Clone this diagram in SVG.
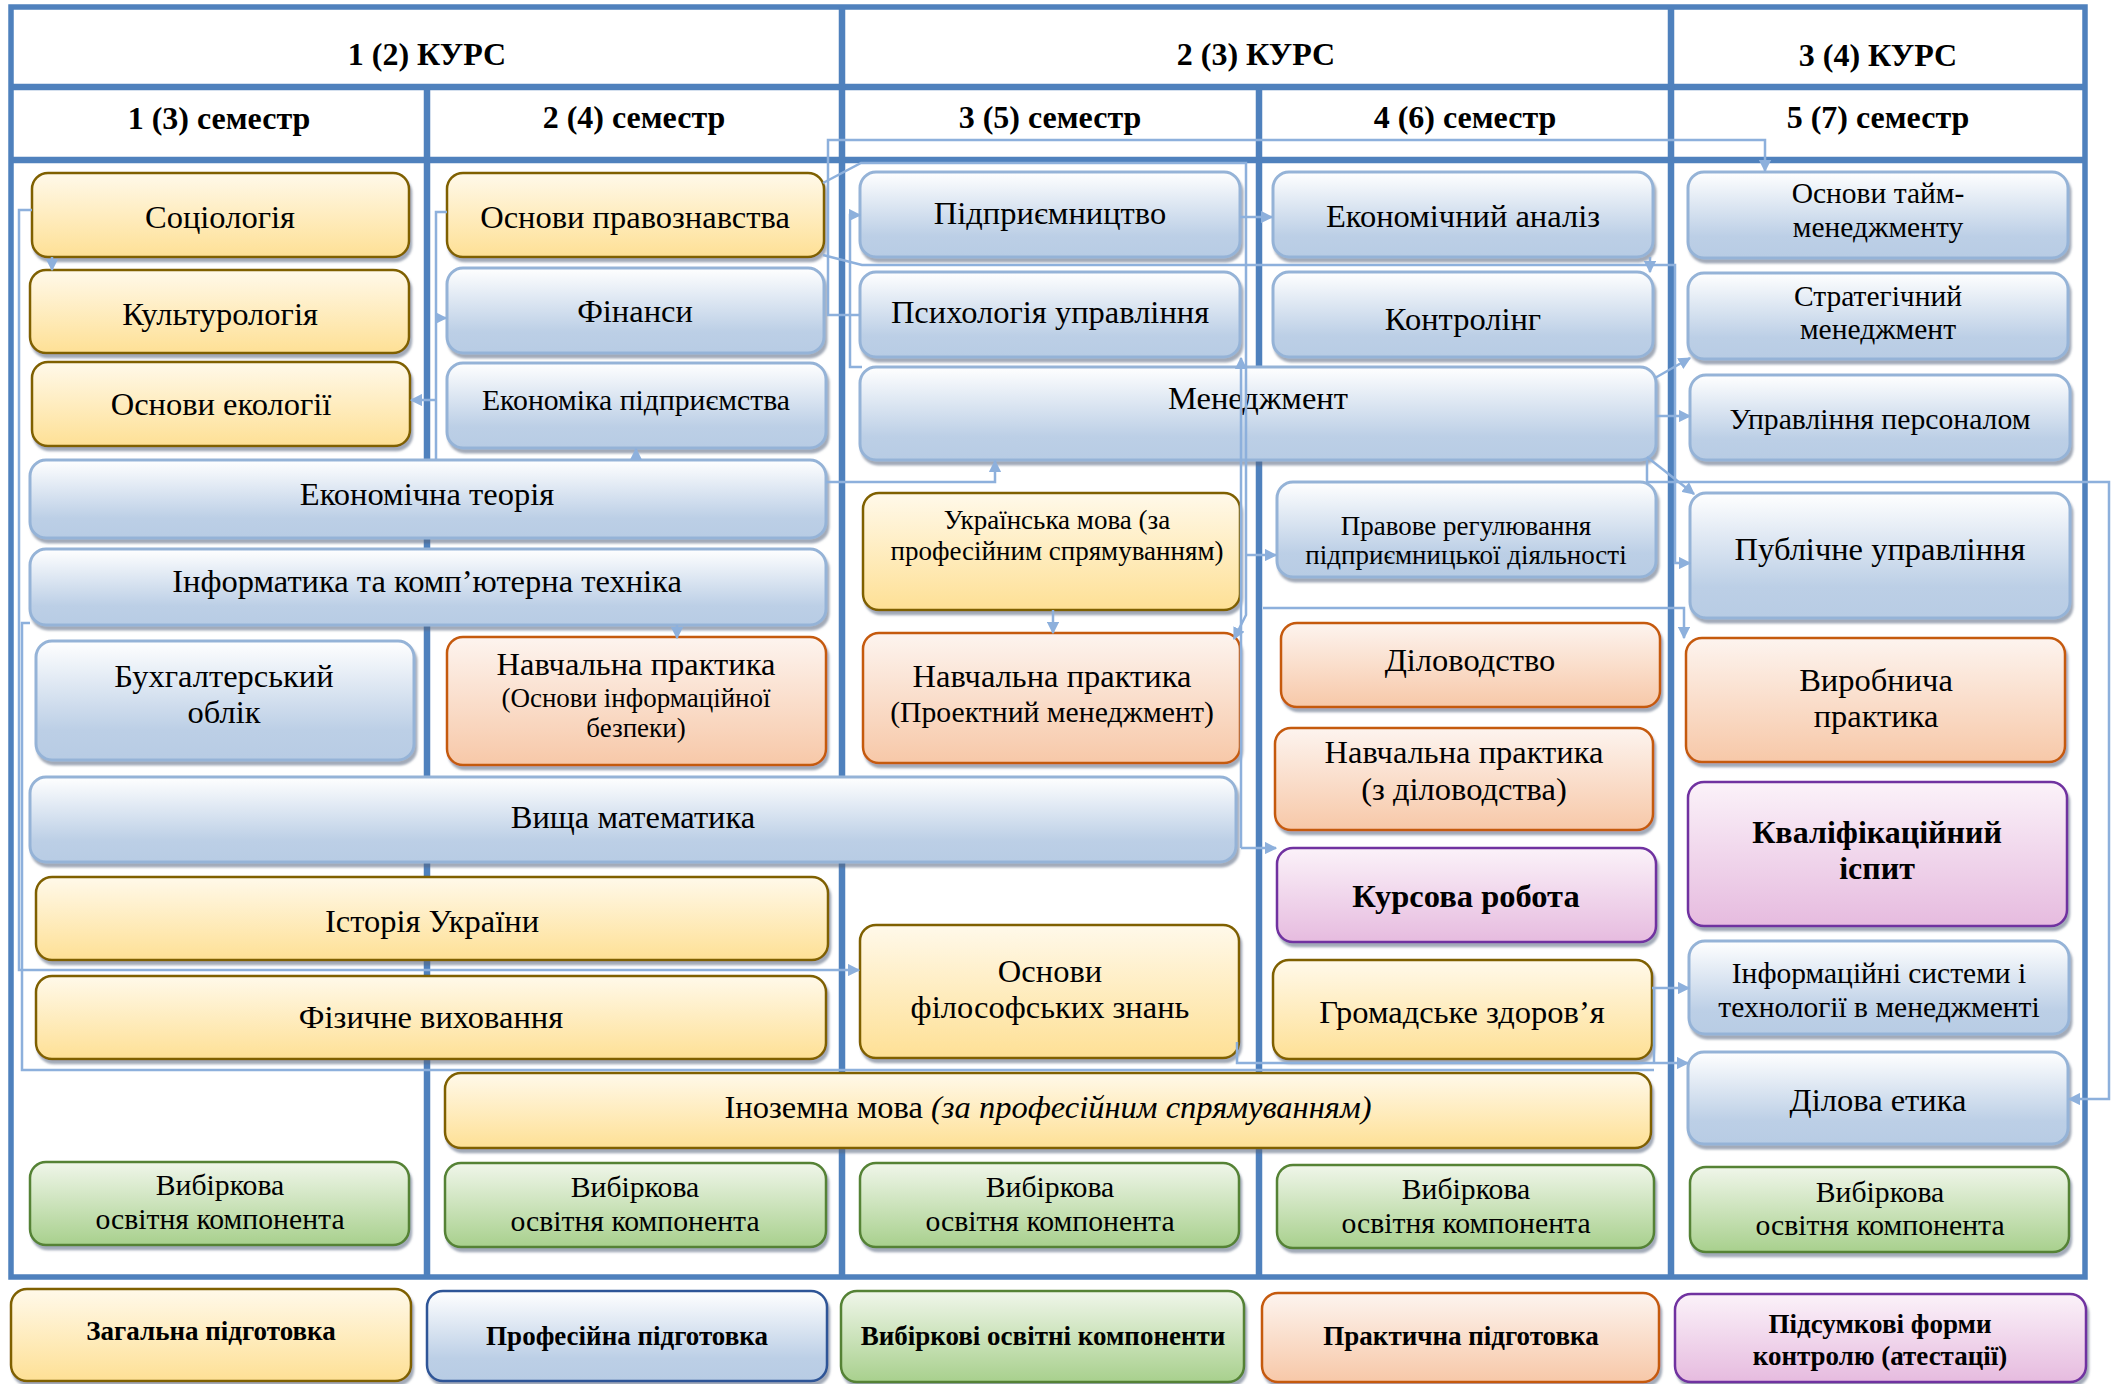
<svg xmlns="http://www.w3.org/2000/svg" width="2118" height="1384" viewBox="0 0 2118 1384">
<defs>
<linearGradient id="gy" x1="0" y1="0" x2="0" y2="1"><stop offset="0" stop-color="#FFF9EA"/><stop offset="1" stop-color="#FEE095"/></linearGradient>
<linearGradient id="gb" x1="0" y1="0" x2="0" y2="1"><stop offset="0" stop-color="#FFFFFF"/><stop offset="0.75" stop-color="#BCCFE6"/><stop offset="1" stop-color="#B8CCE4"/></linearGradient>
<linearGradient id="go" x1="0" y1="0" x2="0" y2="1"><stop offset="0" stop-color="#FDF4EF"/><stop offset="1" stop-color="#F7C8A8"/></linearGradient>
<linearGradient id="gp" x1="0" y1="0" x2="0" y2="1"><stop offset="0" stop-color="#FBF2F9"/><stop offset="1" stop-color="#E6BBDF"/></linearGradient>
<linearGradient id="gg" x1="0" y1="0" x2="0" y2="1"><stop offset="0" stop-color="#F0F6EA"/><stop offset="1" stop-color="#A8D08D"/></linearGradient>
<filter id="sh" x="-5%" y="-10%" width="110%" height="135%"><feDropShadow dx="2" dy="4" stdDeviation="1.2" flood-color="#55657d" flood-opacity="0.55"/></filter>
<marker id="ar" viewBox="0 0 10 10" refX="9" refY="5" markerWidth="5" markerHeight="5" orient="auto" markerUnits="strokeWidth"><path d="M0,0 L10,5 L0,10 z" fill="#8DB0DC"/></marker>
</defs>
<style>
.n rect{filter:url(#sh);}
.y rect{fill:url(#gy);stroke:#7F6000;stroke-width:2.5;}
.b rect{fill:url(#gb);stroke:#95B3D7;stroke-width:3;}
.o rect{fill:url(#go);stroke:#C55A11;stroke-width:2.5;}
.p rect{fill:url(#gp);stroke:#7030A0;stroke-width:2.5;}
.g rect{fill:url(#gg);stroke:#548235;stroke-width:2.5;}
.lb rect{fill:url(#gb);stroke:#2F5597;stroke-width:2.5;}
text{font-family:"Liberation Serif","Times New Roman",serif;fill:#000;text-anchor:middle;font-size:32.5px;}
.s{font-size:27px;}
.m{font-size:29.5px;}
.v{font-size:29.7px;}
.bd{font-weight:bold;}
.h{font-weight:bold;font-size:32px;}
.grid line,.grid rect{stroke:#4F81BD;fill:none;}
.c path{fill:none;stroke:#8DB0DC;stroke-width:2.5;}
.c .a{marker-end:url(#ar);}
</style>
<rect width="2118" height="1384" fill="#FFFFFF"/>
<g class="grid">
<rect x="11" y="7" width="2074" height="1270" stroke-width="5.5"/>
<line x1="11" y1="87" x2="2085" y2="87" stroke-width="6.5"/>
<line x1="11" y1="160" x2="2085" y2="160" stroke-width="6.5"/>
<line x1="427" y1="87" x2="427" y2="1277" stroke-width="6.5"/>
<line x1="842" y1="7" x2="842" y2="1277" stroke-width="6.5"/>
<line x1="1259" y1="87" x2="1259" y2="1277" stroke-width="6.5"/>
<line x1="1671" y1="7" x2="1671" y2="1277" stroke-width="6.5"/>
</g>
<g id="headers">
<text class="h" x="427" y="65">1 (2) КУРС</text>
<text class="h" x="1256" y="65">2 (3) КУРС</text>
<text class="h" x="1878" y="66">3 (4) КУРС</text>
<text class="h" x="219" y="129">1 (3) семестр</text>
<text class="h" x="634" y="128">2 (4) семестр</text>
<text class="h" x="1050" y="128">3 (5) семестр</text>
<text class="h" x="1465" y="128">4 (6) семестр</text>
<text class="h" x="1878" y="128">5 (7) семестр</text>
</g>
<!-- column 1 -->
<g id="sociologia" class="n y"><rect x="32" y="173" width="377" height="84" rx="16"/><text x="220" y="228">Соціологія</text></g>
<g id="kulturologia" class="n y"><rect x="30" y="270" width="379" height="83" rx="16"/><text x="220" y="325">Культурологія</text></g>
<g id="ekologia" class="n y"><rect x="32" y="362" width="378" height="84" rx="16"/><text x="221" y="415">Основи екології</text></g>
<g id="ekonteoria" class="n b"><rect x="30" y="460" width="796" height="78" rx="16"/><text x="427" y="505">Економічна теорія</text></g>
<g id="informatyka" class="n b"><rect x="30" y="549" width="796" height="76" rx="16"/><text x="427" y="592">Інформатика та комп’ютерна техніка</text></g>
<g id="buhoblik" class="n b"><rect x="36" y="641" width="378" height="119" rx="16"/><text x="224" y="687">Бухгалтерський</text><text x="224" y="723">облік</text></g>
<g id="vyshchamat" class="n b"><rect x="30" y="777" width="1206" height="85" rx="16"/><text x="633" y="828">Вища математика</text></g>
<g id="istoria" class="n y"><rect x="36" y="877" width="792" height="83" rx="16"/><text x="432" y="932">Історія України</text></g>
<g id="fizvyh" class="n y"><rect x="36" y="976" width="790" height="83" rx="16"/><text x="431" y="1028">Фізичне виховання</text></g>
<g id="vybir1" class="n g"><rect x="30" y="1162" width="379" height="83" rx="16"/><text class="v" x="220" y="1195">Вибіркова</text><text class="v" x="220" y="1229">освітня компонента</text></g>
<!-- column 2 -->
<g id="pravoznavstvo" class="n y"><rect x="447" y="173" width="377" height="84" rx="16"/><text x="635" y="228">Основи правознавства</text></g>
<g id="finansy" class="n b"><rect x="447" y="268" width="377" height="85" rx="16"/><text x="635" y="322">Фінанси</text></g>
<g id="ekpidpr" class="n b"><rect x="447" y="363" width="379" height="85" rx="16"/><text class="v" x="636" y="410">Економіка підприємства</text></g>
<g id="navchprakt1" class="n o"><rect x="447" y="637" width="379" height="128" rx="16"/><text x="636" y="675">Навчальна практика</text><text class="s" x="636" y="707">(Основи інформаційної</text><text class="s" x="636" y="737">безпеки)</text></g>
<g id="inozemna" class="n y"><rect x="445" y="1073" width="1206" height="75" rx="16"/><text x="1048" y="1118">Іноземна мова <tspan font-style="italic">(за професійним спрямуванням)</tspan></text></g>
<g id="vybir2" class="n g"><rect x="445" y="1163" width="381" height="84" rx="16"/><text class="v" x="635" y="1197">Вибіркова</text><text class="v" x="635" y="1231">освітня компонента</text></g>
<!-- column 3 -->
<g id="pidpryiemnytstvo" class="n b"><rect x="860" y="172" width="380" height="85" rx="16"/><text x="1050" y="224">Підприємництво</text></g>
<g id="psyhologia" class="n b"><rect x="860" y="272" width="380" height="85" rx="16"/><text x="1050" y="323">Психологія управління</text></g>
<g id="menedzhment" class="n b"><rect x="860" y="367" width="796" height="93" rx="16"/><text x="1258" y="409">Менеджмент</text></g>
<g id="ukrmova" class="n y"><rect x="863" y="493" width="377" height="117" rx="16"/><text class="s" x="1057" y="529">Українська мова (за</text><text class="s" x="1057" y="560">професійним спрямуванням)</text></g>
<g id="navchprakt2" class="n o"><rect x="863" y="633" width="377" height="130" rx="16"/><text x="1052" y="687">Навчальна практика</text><text class="v" x="1052" y="722">(Проектний менеджмент)</text></g>
<g id="filosofia" class="n y"><rect x="860" y="925" width="379" height="133" rx="16"/><text x="1050" y="982">Основи</text><text x="1050" y="1018">філософських знань</text></g>
<g id="vybir3" class="n g"><rect x="860" y="1163" width="379" height="84" rx="16"/><text class="v" x="1050" y="1197">Вибіркова</text><text class="v" x="1050" y="1231">освітня компонента</text></g>
<!-- column 4 -->
<g id="ekanaliz" class="n b"><rect x="1273" y="172" width="380" height="85" rx="16"/><text x="1463" y="227">Економічний аналіз</text></g>
<g id="kontroling" class="n b"><rect x="1273" y="272" width="380" height="85" rx="16"/><text x="1463" y="330">Контролінг</text></g>
<g id="pravove" class="n b"><rect x="1277" y="482" width="379" height="95" rx="16"/><text class="s" x="1466" y="535">Правове регулювання</text><text class="s" x="1466" y="564">підприємницької діяльності</text></g>
<g id="dilovodstvo" class="n o"><rect x="1281" y="623" width="379" height="84" rx="16"/><text x="1470" y="671">Діловодство</text></g>
<g id="navchprakt3" class="n o"><rect x="1275" y="728" width="378" height="102" rx="16"/><text x="1464" y="763">Навчальна практика</text><text x="1464" y="800">(з діловодства)</text></g>
<g id="kursova" class="n p"><rect x="1277" y="848" width="379" height="94" rx="16"/><text class="bd" x="1466" y="907">Курсова робота</text></g>
<g id="gromzdorov" class="n y"><rect x="1273" y="960" width="379" height="99" rx="16"/><text x="1462" y="1023">Громадське здоров’я</text></g>
<g id="vybir4" class="n g"><rect x="1277" y="1165" width="377" height="83" rx="16"/><text class="v" x="1466" y="1199">Вибіркова</text><text class="v" x="1466" y="1233">освітня компонента</text></g>
<!-- column 5 -->
<g id="taim" class="n b"><rect x="1688" y="172" width="380" height="86" rx="16"/><text class="m" x="1878" y="203">Основи тайм-</text><text class="m" x="1878" y="237">менеджменту</text></g>
<g id="strateg" class="n b"><rect x="1688" y="273" width="380" height="86" rx="16"/><text class="m" x="1878" y="306">Стратегічний</text><text class="m" x="1878" y="339">менеджмент</text></g>
<g id="personal" class="n b"><rect x="1690" y="375" width="380" height="85" rx="16"/><text class="v" x="1880" y="429">Управління персоналом</text></g>
<g id="publichne" class="n b"><rect x="1690" y="493" width="380" height="125" rx="16"/><text x="1880" y="560">Публічне управління</text></g>
<g id="vyrobnycha" class="n o"><rect x="1686" y="638" width="379" height="124" rx="16"/><text x="1876" y="691">Виробнича</text><text x="1876" y="727">практика</text></g>
<g id="kvalif" class="n p"><rect x="1688" y="782" width="379" height="144" rx="16"/><text class="bd" x="1877" y="843" style="font-size:32px">Кваліфікаційний</text><text class="bd" x="1877" y="879" style="font-size:32px">іспит</text></g>
<g id="infsyst" class="n b"><rect x="1689" y="941" width="380" height="93" rx="16"/><text class="m" x="1879" y="983">Інформаційні системи і</text><text class="m" x="1879" y="1017">технології в менеджменті</text></g>
<g id="dilovaetyka" class="n b"><rect x="1688" y="1052" width="380" height="92" rx="16"/><text x="1878" y="1111">Ділова етика</text></g>
<g id="vybir5" class="n g"><rect x="1690" y="1167" width="379" height="85" rx="16"/><text class="v" x="1880" y="1202">Вибіркова</text><text class="v" x="1880" y="1235">освітня компонента</text></g>
<!-- legend -->
<g id="leg-zag" class="n y"><rect x="11" y="1289" width="400" height="92" rx="16"/><text class="bd s" x="211" y="1340">Загальна підготовка</text></g>
<g id="leg-prof" class="n lb"><rect x="427" y="1291" width="400" height="90" rx="16"/><text class="bd s" x="627" y="1345">Професійна підготовка</text></g>
<g id="leg-vyb" class="n g"><rect x="841" y="1291" width="403" height="91" rx="16"/><text class="bd s" x="1043" y="1345">Вибіркові освітні компоненти</text></g>
<g id="leg-prakt" class="n o"><rect x="1262" y="1293" width="397" height="89" rx="16"/><text class="bd s" x="1461" y="1345">Практична підготовка</text></g>
<g id="leg-pids" class="n p"><rect x="1675" y="1294" width="411" height="88" rx="16"/><text class="bd s" x="1880" y="1333">Підсумкові форми</text><text class="bd s" x="1880" y="1365">контролю (атестації)</text></g>
<g id="connectors" class="c">
<path class="a" d="M52,257 V270"/>
<path class="a" d="M32,210 H19 V970 H859"/>
<path d="M30,623 H22 V1070 H1654"/>
<path class="a" d="M1237,1042 V1063 H1688"/>
<path class="a" d="M1652,988 H1689"/>
<path d="M1654,988 V1063"/>
<path d="M447,212 H436 V459"/>
<path class="a" d="M436,318 H446"/>
<path class="a" d="M436,400 H411"/>
<path class="a" d="M636,460 V449"/>
<path class="a" d="M677,625 V638"/>
<path class="a" d="M826,482 H995 V461"/>
<path class="a" d="M860,315 H828 V140 H1765 V171"/>
<path class="a" d="M862,367 H850 V215 H860"/>
<path class="a" d="M823,183 L861,163 H1246 V615 L1234,639"/>
<path class="a" d="M1246,555 H1276"/>
<path class="a" d="M823,255 L862,265 H1675 V563 H1690"/>
<path class="a" d="M1650,257 V272"/>
<path class="a" d="M1240,217 H1272"/>
<path class="a" d="M1241,848 V358"/>
<path class="a" d="M1241,848 H1276"/>
<path class="a" d="M1053,610 V633"/>
<path class="a" d="M1655,378 L1690,358"/>
<path class="a" d="M1656,416 H1690"/>
<path class="a" d="M1647,457 L1694,494"/>
<path class="a" d="M1647,460 V482 H2109 V1099 H2069"/>
<path class="a" d="M1263,608 H1684 V638"/>
</g>
</svg>
